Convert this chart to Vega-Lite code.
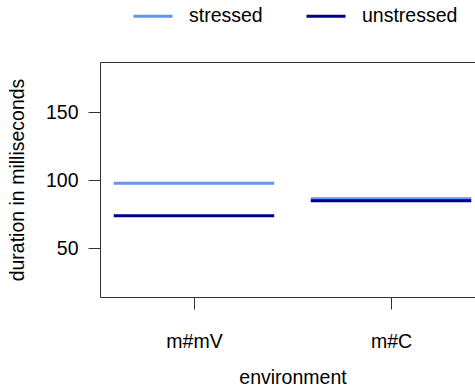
{
  "$schema": "https://vega.github.io/schema/vega-lite/v6.json",
  "width": 385,
  "height": 235,
  "autosize": {"type": "none"},
  "padding": {"left": 100, "top": 62, "right": 0, "bottom": 95},
  "config": {
    "font": "Liberation Sans",
    "view": {"stroke": "#333333", "strokeWidth": 1}
  },
  "data": {
    "values": [
      {"environment": "m#mV", "condition": "stressed", "duration": 97.8},
      {"environment": "m#mV", "condition": "unstressed", "duration": 73.8},
      {"environment": "m#C", "condition": "stressed", "duration": 86.3},
      {"environment": "m#C", "condition": "unstressed", "duration": 84.8}
    ]
  },
  "mark": {"type": "tick", "orient": "horizontal", "size": 158, "thickness": 0.5, "filled": false, "strokeWidth": 2.5, "opacity": 1},
  "encoding": {
    "x": {
      "field": "environment",
      "type": "nominal",
      "sort": ["m#mV", "m#C"],
      "scale": {"type": "point", "padding": 0.477},
      "axis": {
        "title": "environment",
        "domain": false,
        "grid": false,
        "labelAngle": 0,
        "tickSize": 12,
        "tickColor": "#333333",
        "labelFontSize": 19.5,
        "labelColor": "#000000",
        "labelPadding": 23,
        "titleFontSize": 19.5,
        "titleFontWeight": "normal",
        "titleColor": "#000000",
        "titlePadding": 18
      }
    },
    "y": {
      "field": "duration",
      "type": "quantitative",
      "scale": {"domain": [14, 187], "nice": false, "zero": false},
      "axis": {
        "title": "duration in milliseconds",
        "values": [50, 100, 150],
        "domain": false,
        "grid": false,
        "tickSize": 12,
        "tickColor": "#333333",
        "labelFontSize": 19.5,
        "labelColor": "#000000",
        "labelPadding": 10,
        "titleFontSize": 19.5,
        "titleFontWeight": "normal",
        "titleColor": "#000000",
        "titlePadding": 18
      }
    },
    "stroke": {
      "field": "condition",
      "type": "nominal",
      "scale": {"domain": ["stressed", "unstressed"], "range": ["#6495ED", "#00008B"]},
      "legend": {
        "title": null,
        "orient": "none",
        "legendX": 32,
        "legendY": -67,
        "direction": "horizontal",
        "symbolType": "stroke",
        "symbolSize": 1521,
        "symbolStrokeWidth": 3,
        "labelFontSize": 19.5,
        "labelColor": "#000000",
        "labelOffset": 15,
        "columnPadding": 37,
        "padding": 0
      }
    }
  }
}
